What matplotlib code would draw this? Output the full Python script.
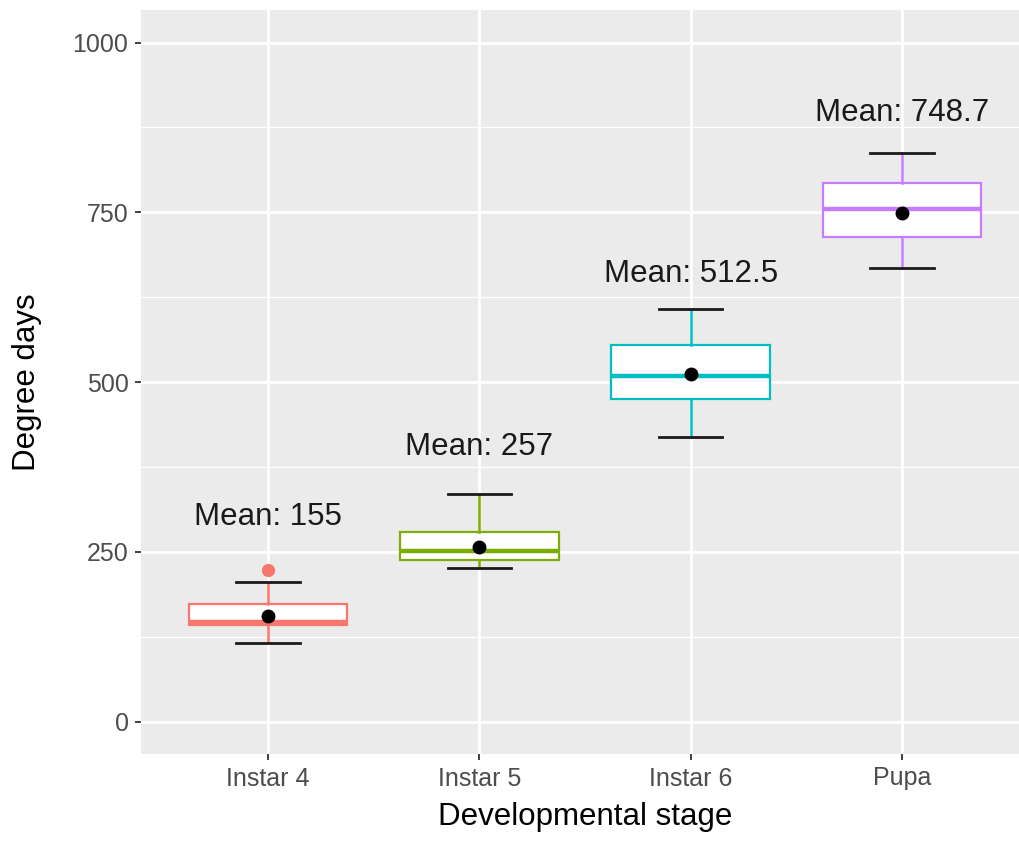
import matplotlib
matplotlib.use("Agg")
import matplotlib.pyplot as plt
from matplotlib.ticker import MultipleLocator

plt.rcParams["font.family"] = ["Liberation Sans", "DejaVu Sans"]

# Developmental stages and box statistics (degree days)
stages = ["Instar 4", "Instar 5", "Instar 6", "Pupa"]
whisker_low = [115.5, 227, 419.7, 668.6]
q1 = [142, 238, 474.8, 713.4]
median = [147, 251, 509.6, 754.6]
q3 = [173, 280, 555, 793]
whisker_high = [205, 335, 608, 837]
outliers = [[223], [], [], []]
means = [155, 257, 512.5, 748.7]
mean_text = ["155", "257", "512.5", "748.7"]
colors = ["#F8766D", "#7CAE00", "#00BFC4", "#C77CFF"]

fig = plt.figure(figsize=(10.2, 8.44), dpi=100)
ax = fig.add_axes([141 / 1020, 1 - 754 / 844, 888 / 1020, 744 / 844])
ax.set_facecolor("#EBEBEB")
for s in ax.spines.values():
    s.set_visible(False)

ax.set_xlim(0.4, 4.6)
ax.set_ylim(-47.6, 1048)

# ggplot-like grid
ax.yaxis.set_major_locator(MultipleLocator(250))
ax.yaxis.set_minor_locator(MultipleLocator(125))
ax.grid(which="major", color="white", lw=2.0, zorder=0)
ax.grid(which="minor", axis="y", color="white", lw=1.0, zorder=0)
ax.set_axisbelow(True)

for i, stage in enumerate(stages):
    pos = i + 1
    c = colors[i]
    stats = [{
        "med": median[i], "q1": q1[i], "q3": q3[i],
        "whislo": whisker_low[i], "whishi": whisker_high[i],
        "fliers": outliers[i], "label": stage,
    }]
    ax.bxp(stats, positions=[pos], widths=0.75, capwidths=0.3,
           patch_artist=True, manage_ticks=False,
           boxprops=dict(facecolor="white", edgecolor=c, lw=1.6),
           medianprops=dict(color=c, lw=3.2),
           whiskerprops=dict(color=c, lw=1.8),
           capprops=dict(color="#1a1a1a", lw=2.0),
           flierprops=dict(marker="o", markerfacecolor=c, markeredgecolor=c,
                           markersize=8.5))
    ax.plot(pos, means[i], "o", color="black", markersize=9, zorder=5)
    ax.text(pos, means[i] + 147, f"Mean: {mean_text[i]}", ha="center",
            va="center", fontsize=22.5, color="#1a1a1a")

ax.set_xticks(range(1, len(stages) + 1))
ax.set_xticklabels(stages)
ax.set_yticks([0, 250, 500, 750, 1000])
ax.tick_params(axis="both", which="major", length=4, width=1.3,
               color="#333333", labelcolor="#4D4D4D", labelsize=18, pad=5)
ax.tick_params(axis="y", which="minor", length=0)

ax.set_xlabel("Developmental stage", fontsize=22.5, color="black", labelpad=8)
ax.set_ylabel("Degree days", fontsize=22.5, color="black", labelpad=22)

fig.savefig("out.png", dpi=100)
